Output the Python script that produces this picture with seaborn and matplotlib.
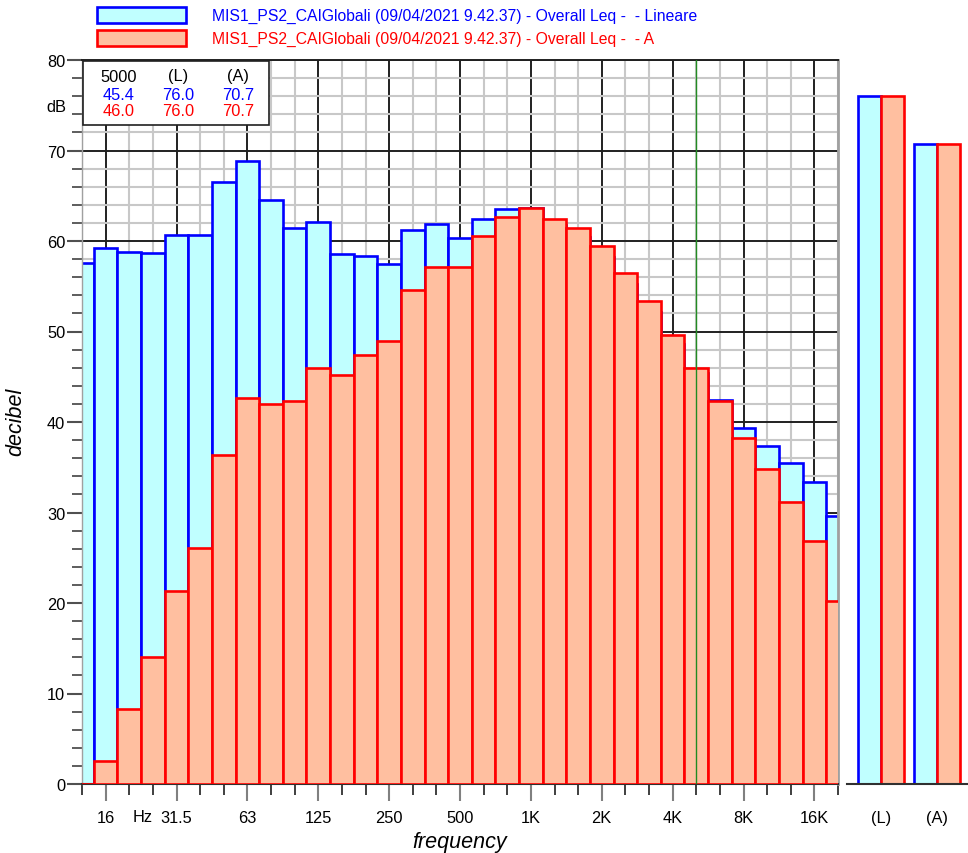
import numpy as np
import pandas as pd
import matplotlib
matplotlib.use("Agg")
import matplotlib.pyplot as plt
from matplotlib.patches import Rectangle
import seaborn as sns

# ---------------- data ----------------
bands = ['12.5', '16', '20', '25', '31.5', '40', '50', '63', '80', '100', '125', '160',
         '200', '250', '315', '400', '500', '630', '800', '1K', '1.25K', '1.6K', '2K',
         '2.5K', '3.15K', '4K', '5K', '6.3K', '8K', '10K', '12.5K', '16K', '20K']
lin_db = [57.6, 59.2, 58.8, 58.7, 60.7, 60.7, 66.5, 68.8, 64.5, 61.4, 62.1, 58.6,
          58.3, 57.5, 61.2, 61.9, 60.3, 62.4, 63.5, 63.6, 61.8, 60.4, 58.2,
          55.2, 52.2, 48.6, 45.4, 42.4, 39.3, 37.3, 35.5, 33.4, 29.6]
a_db = [-5.8, 2.5, 8.3, 14.0, 21.3, 26.1, 36.3, 42.6, 42.0, 42.3, 46.0, 45.2,
        47.4, 48.9, 54.6, 57.1, 57.1, 60.5, 62.7, 63.6, 62.4, 61.4, 59.4,
        56.5, 53.4, 49.6, 46.0, 42.3, 38.2, 34.8, 31.2, 26.8, 20.2]
overall_cats = ['(L)', '(A)']
overall_lin = [76.0, 70.7]
overall_a = [76.0, 70.7]
tick_labels = ['16', '31.5', '63', '125', '250', '500', '1K', '2K', '4K', '8K', '16K']
cursor_band = '5K'
cursor_label = '5000'
legend_labels = ['MIS1_PS2_CAIGlobali (09/04/2021 9.42.37) - Overall Leq -  - Lineare',
                 'MIS1_PS2_CAIGlobali (09/04/2021 9.42.37) - Overall Leq -  - A']

# ---------------- style ----------------
CYAN = '#C0FFFF'
SALMON = '#FFBFA0'
BLUE = '#0000FF'
RED = '#FF0000'
FS = 11.8

sns.set_theme(style='white')
plt.rcParams['font.family'] = ['Liberation Sans', 'DejaVu Sans']
plt.rcParams['text.color'] = 'black'
plt.rcParams['xtick.labelcolor'] = 'black'
plt.rcParams['ytick.labelcolor'] = 'black'

W, H = 968, 854
fig = plt.figure(figsize=(W / 100, H / 100), dpi=100)

def fx(px):
    return px / W

def fy(py):
    return 1 - py / H

L, R, T, B = 82, 838, 61, 785
ax = fig.add_axes([fx(L), fy(B), fx(R - L), (B - T) / H])

df = pd.DataFrame({'band': bands, 'lin': lin_db, 'a': a_db})
sns.barplot(data=df, x='band', y='lin', order=bands, color=CYAN, saturation=1,
            width=1.0, edgecolor=BLUE, linewidth=1.9, ax=ax, zorder=2)
sns.barplot(data=df, x='band', y='a', order=bands, color=SALMON, saturation=1,
            width=1.0, edgecolor=RED, linewidth=1.9, ax=ax, zorder=3)

n = len(bands)
ax.set_xlim(0, n - 1)
ax.set_ylim(0, 80)

major_pos = [bands.index(t) for t in tick_labels]
minor_pos = [i for i in range(n) if i not in major_pos]
ax.set_xticks(major_pos)
ax.set_xticklabels(tick_labels)
ax.set_xticks(minor_pos, minor=True)
ax.set_yticks(np.arange(0, 81, 10))
ax.set_yticks(np.arange(0, 81, 2), minor=True)
ax.set_xlabel('')
ax.set_ylabel('')

ax.set_axisbelow(True)
ax.grid(which='minor', color='#c8c8c8', linewidth=1.5, zorder=0)
ax.grid(which='major', color='#202020', linewidth=1.4, zorder=1)

ax.tick_params(axis='x', which='major', length=12, width=1.5, color='#808080',
               labelsize=FS, pad=7, bottom=True, labelcolor='black')
ax.tick_params(axis='x', which='minor', length=8, width=1.3, color='#303030', bottom=True)
ax.tick_params(axis='y', which='major', length=11, width=1.5, color='#505050',
               labelsize=FS, pad=1, left=True, labelcolor='black')
ax.tick_params(axis='y', which='minor', length=7.5, width=1.3, color='#505050', left=True)

ax.spines['top'].set_color('#202020')
ax.spines['top'].set_linewidth(1.4)
ax.spines['right'].set_color('#a0a0a0')
ax.spines['right'].set_linewidth(2)
ax.spines['left'].set_color('#a0a0a0')
ax.spines['left'].set_linewidth(1)
ax.spines['bottom'].set_color('#303030')
ax.spines['bottom'].set_linewidth(1.5)

# cursor line
ci = bands.index(cursor_band)
ax.axvline(ci, color='#228B22', linewidth=1.0, zorder=4)

# info box
ax.add_patch(Rectangle((fx(83), fy(126)), fx(186), (126 - 62) / H, transform=fig.transFigure,
                       facecolor='white', edgecolor='#202020', linewidth=1.2, zorder=5))
cols = [119, 178, 238]
rows = [77, 95, 112]
header = [cursor_label, overall_cats[0], overall_cats[1]]
row_lin = [f'{lin_db[ci]:.1f}', f'{overall_lin[0]:.1f}', f'{overall_lin[1]:.1f}']
row_a = [f'{a_db[ci]:.1f}', f'{overall_a[0]:.1f}', f'{overall_a[1]:.1f}']
for cx, h, vl, va in zip(cols, header, row_lin, row_a):
    fig.text(fx(cx), fy(rows[0]), h, ha='center', va='center', fontsize=FS, color='black', zorder=6)
    fig.text(fx(cx), fy(rows[1]), vl, ha='center', va='center', fontsize=FS, color=BLUE, zorder=6)
    fig.text(fx(cx), fy(rows[2]), va, ha='center', va='center', fontsize=FS, color=RED, zorder=6)

# dB unit label and Hz
fig.text(fx(66), fy(107), 'dB', ha='right', va='center', fontsize=FS, color='black')
fig.text(fx(143), fy(818), 'Hz', ha='center', va='center', fontsize=FS, color='black')

# axis titles
fig.text(fx(16), fy(422), 'decibel', rotation=90, ha='center', va='center',
         fontsize=15.5, style='italic', color='black')
fig.text(fx(460), fy(843), 'frequency', ha='center', va='center', fontsize=15.5,
         style='italic', color='black')

# ---------------- overall panel ----------------
ax2 = fig.add_axes([fx(847), fy(B), fx(W - 847), (B - T) / H])
df2 = pd.DataFrame({'cat': overall_cats * 2,
                    'weight': ['Lin'] * 2 + ['A'] * 2,
                    'val': overall_lin + overall_a})
sns.barplot(data=df2, x='cat', y='val', hue='weight', order=overall_cats,
            hue_order=['Lin', 'A'], palette={'Lin': CYAN, 'A': SALMON}, saturation=1,
            width=0.82, gap=0, linewidth=1.9, legend=False, ax=ax2)
for cont, ec in zip(ax2.containers, [BLUE, RED]):
    for p in cont:
        p.set_edgecolor(ec)
ax2.set_xlim(-0.607, 1.55)
ax2.set_ylim(0, 80)
ax2.set_xlabel('')
ax2.set_ylabel('')
ax2.set_yticks([])
ax2.tick_params(axis='x', length=0, labelsize=FS, pad=19, labelcolor='black')
for s in ['top', 'right', 'left']:
    ax2.spines[s].set_visible(False)
ax2.spines['bottom'].set_color('#303030')
ax2.spines['bottom'].set_linewidth(1.5)

# ---------------- legend ----------------
for i, (fc, ec, lab) in enumerate([(CYAN, BLUE, legend_labels[0]), (SALMON, RED, legend_labels[1])]):
    y0 = 8 + i * 23
    fig.patches.append(Rectangle((fx(97), fy(y0 + 16)), fx(89), 16 / H, transform=fig.transFigure,
                                 facecolor=fc, edgecolor=ec, linewidth=1.9))
    fig.text(fx(212), fy(y0 + 8), lab, ha='left', va='center', fontsize=11.3, color=ec)

fig.savefig('out.png', dpi=100)
